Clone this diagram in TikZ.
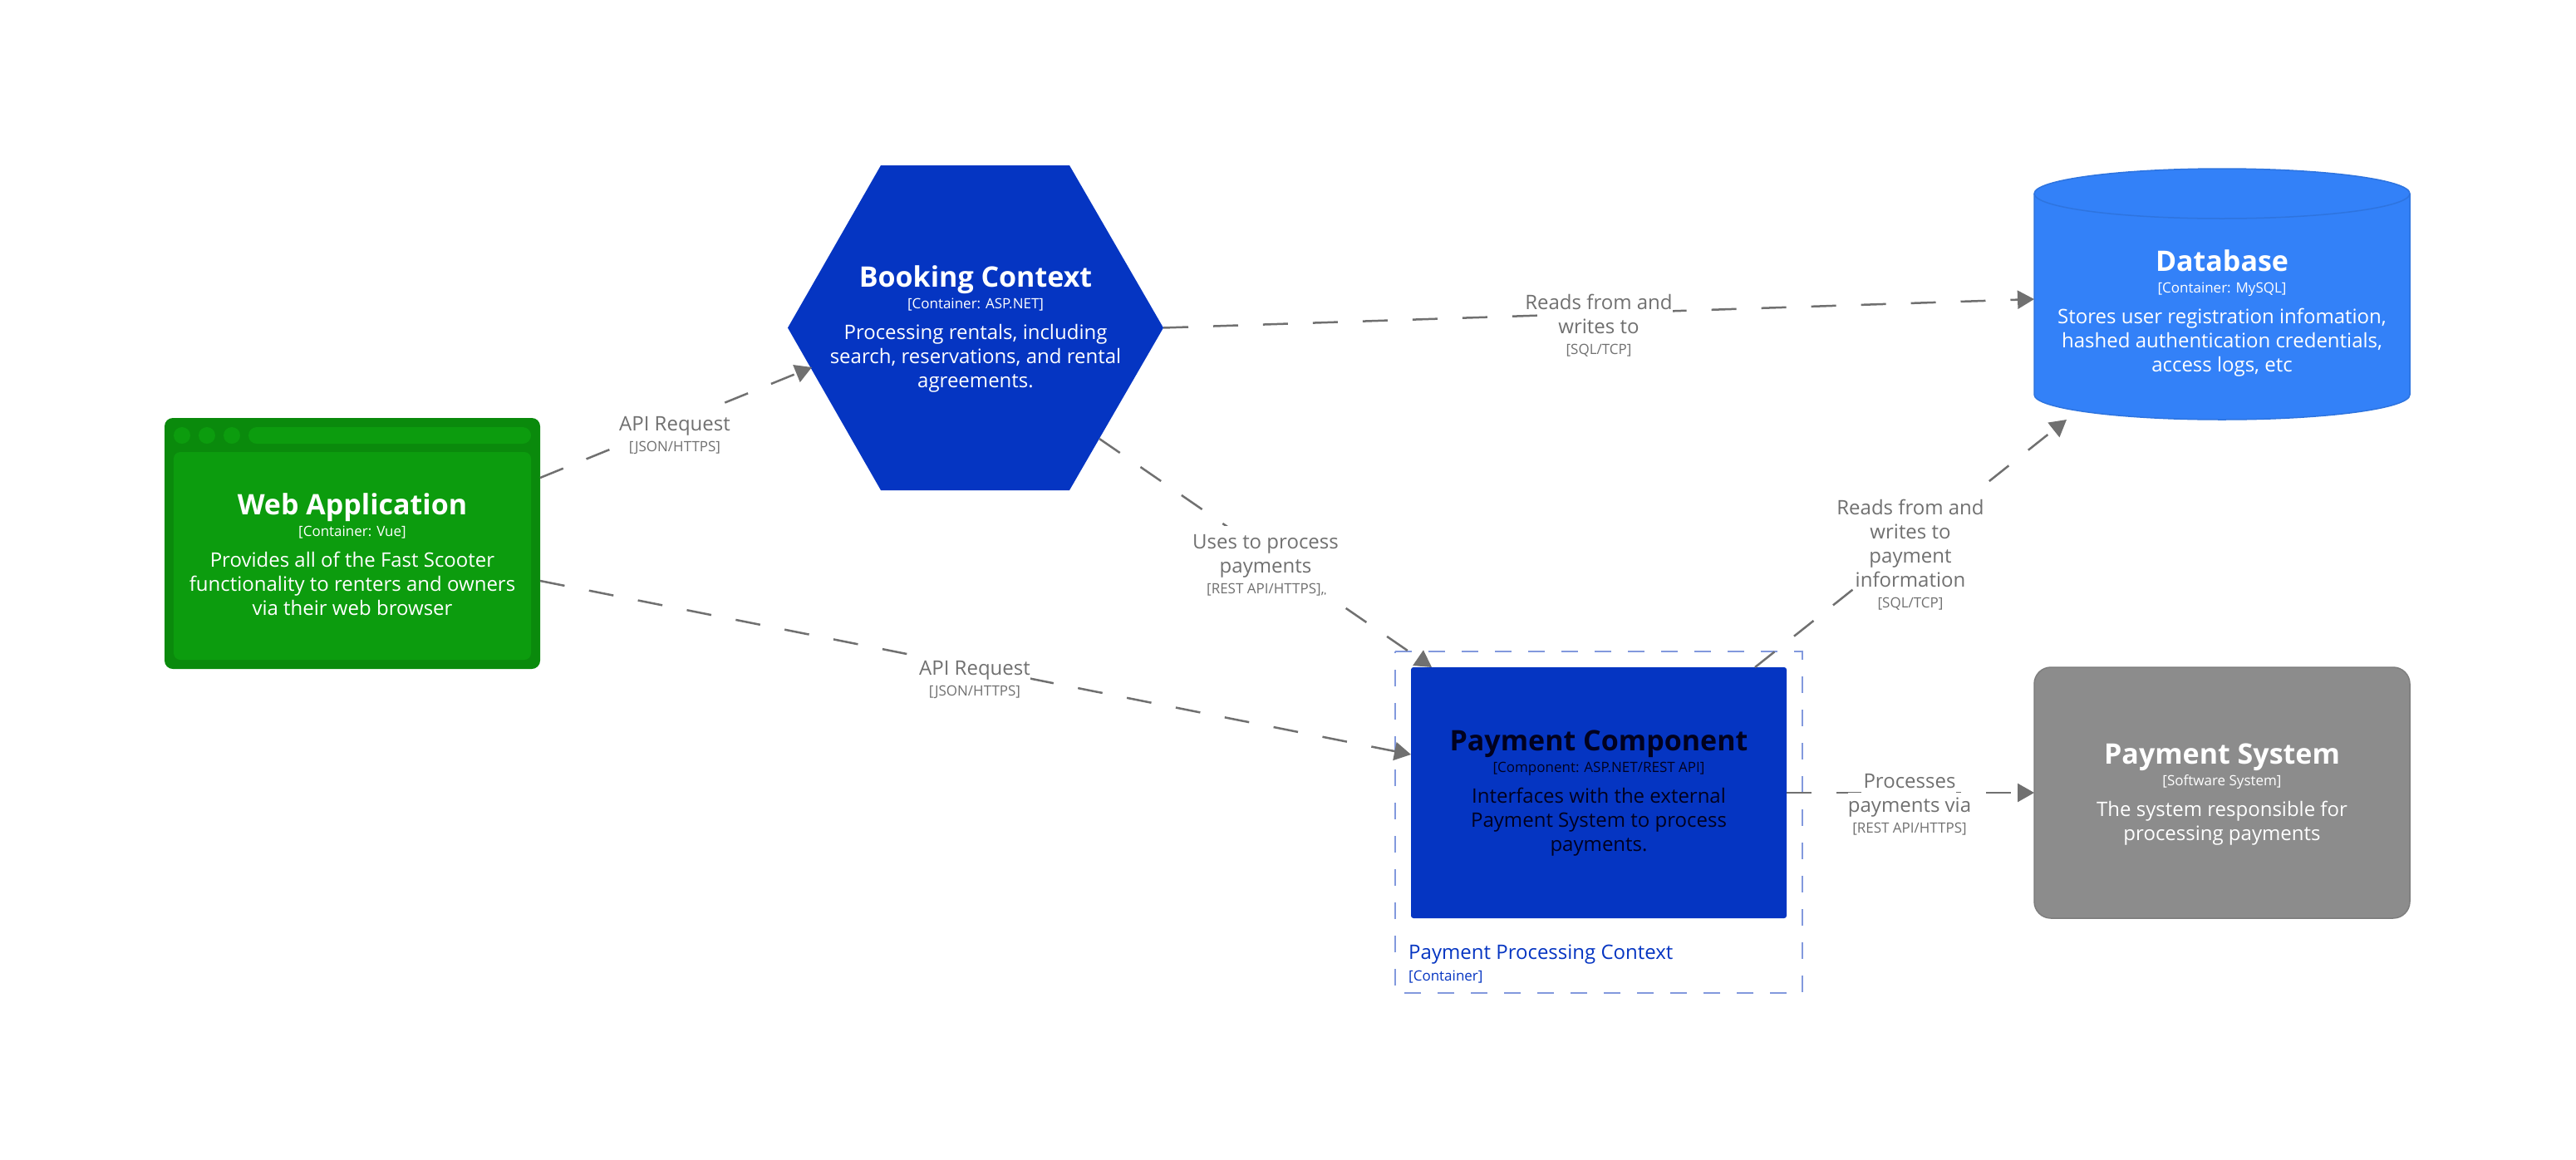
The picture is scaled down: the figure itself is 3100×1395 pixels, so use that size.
\documentclass[tikz,border=0pt]{standalone}
\usepackage{fontspec}
\setmainfont{Open Sans}
\usetikzlibrary{arrows.meta}
\definecolor{blueA}{HTML}{0535C2}
\definecolor{blueB}{HTML}{3381F8}
\definecolor{blueBline}{HTML}{2E74DF}
\definecolor{greenA}{HTML}{0C9C0E}
\definecolor{greenB}{HTML}{0A8A0C}
\definecolor{greyA}{HTML}{8C8C8C}
\definecolor{greyB}{HTML}{7E7E7E}
\definecolor{linkc}{HTML}{707070}
\definecolor{boundc}{HTML}{8299DD}
\definecolor{darktext}{HTML}{01011F}
\setlength{\fboxsep}{0pt}
\newcommand{\bigt}[1]{{\fontsize{34}{29}\selectfont\bfseries #1}}
\newcommand{\smallt}[1]{{\fontsize{17}{29}\selectfont #1}}
% connector label lines: each line has its own white backing
\newcommand{\fline}[1]{\colorbox{white}{\rule[-6pt]{0pt}{33pt}#1}}
\newcommand{\lline}[1]{\colorbox{white}{\rule[-6pt]{0pt}{29pt}#1}}
\newcommand{\sline}[1]{\colorbox{white}{\rule[-5pt]{0pt}{24pt}\smallt{#1}}}
\tikzset{
  shapebox/.style={inner sep=0pt,outer sep=0pt,minimum width=452pt,minimum height=302pt},
  boxtext/.style={align=center,inner sep=0pt,text=white,font=\fontsize{24}{29}\selectfont},
  link/.style={draw=linkc,line width=2.5pt,dash pattern=on 30pt off 30pt,-{Triangle[length=20pt,width=22pt,fill=linkc]}},
  linklabel/.style={align=center,inner sep=0pt,text=linkc,font=\fontsize{24}{29}\selectfont},
}
\begin{document}
\begin{tikzpicture}[x=1pt,y=-1pt]
\useasboundingbox[fill=white] (0,0) rectangle (3100,1395);

% Web application
\node[shapebox,fill=greenB,rounded corners=10pt] (web) at (424,654) {};
\node[inner sep=0pt,outer sep=0pt,fill=greenA,rounded corners=8pt,minimum width=430pt,minimum height=250pt] (webinner) at (424,669) {};
\node[circle,inner sep=0pt,minimum size=20pt,fill=greenA] (dotA) at (219,524) {};
\node[circle,inner sep=0pt,minimum size=20pt,fill=greenA] (dotB) at (249,524) {};
\node[circle,inner sep=0pt,minimum size=20pt,fill=greenA] (dotC) at (279,524) {};
\node[inner sep=0pt,fill=greenA,rounded corners=10pt,minimum width=340pt,minimum height=20pt] (webbar) at (469,524) {};

% Booking context
\node[inner sep=0pt,outer sep=0pt,minimum width=452pt,minimum height=391pt] (hex) at (1174,394.5) {};
\fill[blueA] (hex.west) -- ([xshift=-114pt]hex.north) -- ([xshift=113pt]hex.north) -- (hex.east) -- ([xshift=113pt]hex.south) -- ([xshift=-114pt]hex.south) -- cycle;

% Database
\node[shapebox] (db) at (2674,354) {};
\path[fill=blueB,draw=blueBline,line width=1.5pt] ([yshift=121pt]db.west) arc[start angle=180,end angle=0,x radius=226pt,y radius=30pt] -- ([yshift=-121pt]db.east) arc[start angle=0,end angle=-180,x radius=226pt,y radius=30pt] -- cycle;
\draw[blueBline,line width=1.5pt] ([yshift=121pt]db.west) arc[start angle=180,end angle=360,x radius=226pt,y radius=30pt];

% Payment boundary and component
\node[inner sep=0pt,outer sep=0pt,minimum width=490pt,minimum height=411pt] (bound) at (1924,989.5) {};
\draw[boundc,line width=2.5pt,dash pattern=on 20pt off 20pt] (bound.north west) -- (bound.north east) -- (bound.south east) -- (bound.south west) -- cycle;
\node[shapebox,fill=blueA,rounded corners=3pt] (comp) at (1924,954) {};

% Payment system
\node[shapebox,fill=greyA,draw=greyB,line width=1.5pt,rounded corners=20pt] (pay) at (2674,954) {};

% Connectors
\path[link] ([yshift=79pt]web.east) -- ([xshift=-197pt,yshift=-47.5pt]hex.center);
\path[link] ([yshift=-45pt]web.east) -- ([yshift=46pt]comp.west);
\path[link] (hex.east) -- ([yshift=-6pt]db.west);
\path[link] ([xshift=149pt,yshift=-133.5pt]hex.center) -- ([xshift=-201pt]comp.north);
\path[link] ([xshift=188pt]comp.north) -- ([xshift=-187pt]db.south);
\path[link] (comp.east) -- (pay.west);

% Connector labels
\node[linklabel] (lblA) at (812,520) {\fline{API Request}\\[-4pt]\sline{[JSON/HTTPS]}};
\node[linklabel] (lblB) at (1173,814) {\fline{API Request}\\[-4pt]\sline{[JSON/HTTPS]}};
\node[linklabel] (lblC) at (1924,388) {\fline{Reads from and}\\\lline{writes to}\\[-4pt]\sline{[SQL/TCP]}};
\node[linklabel] (lblD) at (1523,676) {\fline{Uses to process}\\\lline{payments}\\[-4pt]\sline{[REST API/HTTPS],}};
\node[linklabel] (lblE) at (2299,664.5) {\fline{Reads from and}\\\lline{writes to}\\\lline{payment}\\\lline{information}\\[-4pt]\sline{[SQL/TCP]}};
\node[linklabel] (lblF) at (2298,964) {\fline{Processes}\\\lline{payments via}\\[-4pt]\sline{[REST API/HTTPS]}};

% Box texts
\node[boxtext] (webtext) at (424,667) {\bigt{Web Application}\\[-3pt]\smallt{[Container: Vue]}\\[8pt]Provides all of the Fast Scooter\\functionality to renters and owners\\via their web browser};
\node[boxtext] (hextext) at (1174,396) {\bigt{Booking Context}\\[-3pt]\smallt{[Container: ASP.NET]}\\[8pt]Processing rentals, including\\search, reservations, and rental\\agreements.};
\node[boxtext] (dbtext) at (2674,377) {\bigt{Database}\\[-3pt]\smallt{[Container: MySQL]}\\[8pt]Stores user registration infomation,\\hashed authentication credentials,\\access logs, etc};
\node[boxtext,text=darktext] (comptext) at (1924,955) {\bigt{Payment Component}\\[-3pt]\smallt{[Component: ASP.NET/REST API]}\\[8pt]Interfaces with the external\\Payment System to process\\payments.};
\node[boxtext] (paytext) at (2674,956) {\bigt{Payment System}\\[-3pt]\smallt{[Software System]}\\[8pt]The system responsible for\\processing payments};
\node[align=left,anchor=west,inner sep=0pt,text=blueA,font=\fontsize{24}{29}\selectfont] (boundtext) at (1695,1160) {Payment Processing Context\\[-3pt]\smallt{[Container]}};
\end{tikzpicture}
\end{document}
